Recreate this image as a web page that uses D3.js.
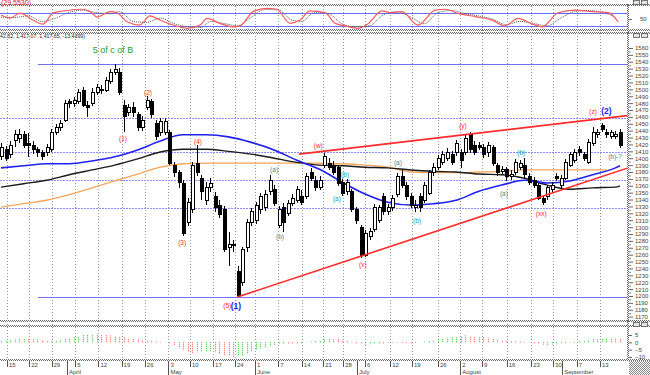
<!DOCTYPE html>
<html>
<head>
<meta charset="utf-8">
<script src="https://cdn.jsdelivr.net/npm/d3@7/dist/d3.min.js"></script>
<style>
  body { margin: 0; background: #fff; }
  svg { display: block; font-family: "Liberation Sans", "DejaVu Sans", sans-serif; }
</style>
</head>
<body>
<svg width="650" height="375"></svg>
<script>
// daily candles, one per trading day (index 0 = mid March)
let opens = [1402,1413,1405,1426,1428,1434,1421,1419,1412,1408,1409,1412,1438,1444,1455,1482,1480,1482,1499,1477,1480,1496,1498,1499,1511,1525,
  1525,1477,1467,1474,1463,1444,1474,1482,1450,1437,1438,1437,1390,1379,1364,1306,1325,1393,1371,1339,1357,1344,1332,
  1325,1270,1275,1235,1219,1270,1306,1310,1325,1328,1351,1354,1303,1329,1320,1335,1339,1344,1344,1380,1368,1357,1390,1393,1390,1386,1365,1351,1351,1325,1299,1259,1286,1296,1310,1344,1322,1328,1347,1373,1361,1344,1329,1344,1339,1349,1379,1387,1394,1400,1405,1408,1408,1409,1434,1419,1419,1416,1408,1415,1389,1381,1383,1374,1379,1387,1390,1374,1368,1360,1341,1344,1354,1374,1361,1371,1390,1397,1413,1405,1394,1422,1434,1447,1438,1432,1432,1438];
let closes = [1416,1400,1419,1434,1435,1419,1418,1412,1408,1402,1416,1438,1445,1451,1480,1479,1484,1496,1477,1474,1496,1502,1500,1513,1525,1529,
  1495,1460,1473,1466,1444,1455,1484,1463,1431,1454,1454,1393,1379,1365,1291,1336,1390,1379,1351,1358,1364,1328,1318,
  1267,1275,1273,1201,1267,1306,1322,1332,1344,1347,1368,1335,1325,1307,1335,1342,1354,1336,1373,1371,1357,1368,1402,1387,1380,1364,1349,1365,1325,1310,1259,1291,1293,1329,1328,1322,1329,1342,1373,1361,1344,1332,1332,1329,1361,1379,1387,1400,1405,1409,1394,1422,1397,1429,1412,1409,1416,1405,1419,1393,1379,1384,1373,1377,1394,1393,1376,1365,1361,1342,1336,1357,1361,1371,1371,1394,1405,1409,1408,1400,1423,1437,1438,1442,1434,1437,1435,1419];
let highs = [1422,1418,1425,1441,1442,1439,1437,1425,1416,1412,1421,1442,1450,1455,1484,1486,1489,1500,1503,1483,1502,1508,1506,1518,1529,1537,
  1531,1484,1479,1482,1467,1461,1490,1486,1455,1458,1458,1441,1394,1383,1368,1342,1394,1419,1376,1365,1371,1351,1339,
  1331,1293,1281,1243,1271,1312,1328,1336,1349,1354,1376,1361,1331,1335,1339,1348,1360,1354,1379,1386,1374,1374,1408,1400,1396,1390,1370,1370,1355,1329,1303,1296,1299,1334,1332,1349,1334,1347,1379,1383,1365,1349,1339,1349,1365,1383,1393,1405,1410,1415,1410,1426,1413,1434,1438,1425,1423,1421,1423,1419,1393,1389,1387,1383,1399,1397,1400,1379,1373,1364,1345,1361,1365,1379,1376,1399,1409,1413,1418,1409,1428,1445,1442,1451,1442,1441,1439,1442];
let lows = [1397,1396,1400,1416,1422,1415,1402,1406,1402,1397,1403,1409,1434,1439,1453,1473,1474,1479,1474,1460,1476,1492,1493,1496,1508,1521,
  1492,1438,1461,1460,1439,1439,1470,1458,1426,1432,1434,1390,1373,1357,1287,1302,1320,1374,1339,1332,1351,1322,1313,
  1264,1243,1264,1198,1215,1264,1302,1304,1319,1323,1347,1331,1299,1293,1316,1331,1335,1332,1341,1367,1352,1354,1386,1383,1376,1360,1345,1347,1322,1304,1255,1257,1281,1293,1306,1318,1318,1323,1344,1357,1339,1328,1322,1322,1335,1347,1374,1383,1390,1396,1390,1403,1386,1405,1408,1405,1412,1400,1402,1389,1374,1377,1367,1368,1376,1383,1371,1361,1357,1339,1332,1339,1349,1367,1357,1368,1387,1393,1403,1396,1392,1418,1429,1438,1429,1428,1428,1415];

// moving averages read every 5 sessions
let maIdx = [0,5,10,15,20,25,30,35,40,45,50,55,60,65,70,75,80,85,90,95,100,105,110,115,120,125,130,135,136];
let blueMA = [1386,1389,1392,1392,1396,1402,1412,1425,1434,1434,1431,1423,1412,1397,1384,1365,1348,1336,1332,1334,1339,1352,1361,1368,1364,1367,1376,1386,1389];
let blackMA = [1358,1363,1368,1376,1383,1390,1399,1409,1413,1413,1410,1406,1400,1394,1390,1389,1387,1386,1383,1381,1380,1377,1376,1371,1361,1355,1357,1358,1360];
let orangeIdx = [0,5,10,15,20,25,30,35,40,45,50,55,60,65,70,75,80,85,90,95,100,105,110,115,120,125,130,133];
let orangeMA = [1329,1334,1339,1347,1357,1367,1377,1387,1392,1393,1393,1393,1393,1393,1393,1392,1390,1387,1380,1379,1379,1380,1381,1383,1383,1383,1383,1383];

// horizontal levels and trend lines
let bandLevels = [1537, 1198.5];
let fibLevels = [1458, 1409, 1368, 1328];
let upperTrend = [[65.5, 1406], [137.8, 1462]];
let lowerTrend = [[51.9, 1198.5], [137.8, 1386]];

// oscillator (top panel)
let oscIdx = [0,2,4.2,7,9.2,11.4,13.6,17.4,19.6,21.1,24,25.5,27.7,30.5,32.7,34.9,37.8,40.9,43.7,45.3,48.1,51,52.5,55.4,58.4,60.6,63.5,65.7,67.9,71.2,73.4,75.6,78.4,80.6,83.7,85.9,88.1,91.6,95.4,97.6,100.4,104.2,107.9,110.7,113.6,116.7,118.9,122.4,126.1,129.9,133.4,135.6];
let oscRed = [69,55,78,46,27,78,88,96,85,60,85,80,38,23,65,46,23,8,23,54,31,15,19,85,100,96,31,46,88,80,31,19,8,28,88,80,85,23,92,96,77,62,46,19,54,28,15,80,92,85,80,38];
let sigIdx = [0,3,6,9,12,15,18,21,24,26,29,32,35,38,41,44,46,49,52,55,58,61,64,66,69,72,75,78,81,84,87,90,93,96,99,102,105,108,111,114,117,120,123,126,129,132,135];
let oscGray = [60,58,65,40,55,82,92,80,75,85,40,35,55,30,15,12,40,30,20,60,95,92,45,40,82,75,28,15,20,70,85,60,30,80,90,75,65,50,25,40,30,20,55,85,90,82,60];

// histogram (bottom panel)
let hist = [1.4,1.6,1.8,2.0,2.2,2.3,2.2,2.0,1.9,1.7,1.5,1.3,1.5,1.8,2.4,3.2,3.8,4.4,4.9,5.3,
  5.5,5.3,5.0,4.8,4.6,4.3,3.8,3.4,3.0,2.5,2.1,1.6,1.2,0.8,0.5,0.3,0.1,-1.2,-2.5,-3.8,
  -5.5,-6.8,-7.5,-7.0,-6.6,-6.5,-6.2,-7.0,-8.2,-9.0,-9.4,-10.0,-9.6,-8.8,-7.8,-6.6,-5.4,-4.4,-3.4,-2.6,
  -1.9,-1.3,-0.9,-1.1,-1.3,-1.0,-0.6,-0.1,0.4,0.9,1.5,2.0,2.4,2.6,2.3,1.6,0.9,0.2,-0.6,-1.3,
  -1.6,-1.4,-1.2,-0.9,-0.6,-0.4,-0.3,-0.2,-0.4,-0.5,-0.6,-0.4,-0.1,0.4,0.9,1.5,2.1,2.7,3.2,3.7,
  4.1,4.4,4.6,4.4,4.2,4.0,3.7,3.2,2.6,2.0,1.5,1.1,0.8,0.6,0.5,0.3,-0.2,-0.7,-1.2,-1.6,
  -1.9,-1.7,-1.4,-1.0,-0.6,-0.2,0.3,0.8,1.3,1.8,2.2,2.6,2.9,3.1,3.0,2.9,2.8];

// date axis
let weekTicks = [1.3,6.2,11.1,16.3,21.4,26.5,31.6,36.8,41.5,46.6,51.4,55.8,60.9,66.1,70.8,75.2,80,85.5,90.3,96,100.9,105.7,111.1,116.5,121.3,126.5,131.6];
let weekLabels = ["15","22","29","5","12","19","26","3","10","17","24","1","7","14","21","28","6","12","19","26","2","9","16","23","30","7","13"];
let monthIdx = [14.5, 36.8, 55.8, 78.2, 100.9, 123.3];
let monthNames = ["April","May","June","July","August","September"];

// wave annotations
let waveText = ["(1)","(2)","(3)","(4)","(5)","(w)","(x)","(y)","(xx)","(z)"];
let waveIdx = [26.8,32.3,39.8,43.3,49.7,69.7,79.5,101.5,118.7,130.1];
let wavePrice = [1428,1496,1278,1425,1185.5,1419,1246,1448,1320,1468.5];
let degText = ["(1)","(2)"];
let degIdx = [51.6,133.0];
let degPrice = [1185.5,1468.5];
let subText = ["(a)","(b)","(a)","(b)","(a)","(b)","(a)","(b)","(b)-?"];
let subIdx = [60,61.3,73.8,75.6,87.2,91.4,110.5,114.3,134.9];
let subPrice = [1383,1286,1342,1377,1394,1310,1349,1409,1402];

let svg = d3.select("svg");
let x = d3.scaleLinear().domain([0, 136]).range([1, 620]),
    y = d3.scaleLinear().domain([1200, 1560]).range([296, 48]),
    yOsc = d3.scaleLinear().domain([20, 80]).range([25.7, 12.7]),
    yHist = d3.scaleLinear().domain([-10, 5]).range([357, 335]);
let px = v => Math.round(v) + 0.5;

let candles = opens.map((o, i) => ({i: i, o: o, h: highs[i], l: lows[i], c: closes[i]}));

svg.append("rect").attr("width", 650).attr("height", 375).attr("fill", "#fff");

let defs = svg.append("defs");
defs.append("clipPath").attr("id", "clipMain").append("rect")
    .attr("x", 0).attr("y", 33).attr("width", 627).attr("height", 287);
defs.append("clipPath").attr("id", "clipOsc").append("rect")
    .attr("x", 0).attr("y", 6).attr("width", 627).attr("height", 23);

// checker separators
function band(y0, x2) {
    [0, 1].forEach(k => {
        svg.append("line")
            .attr("x1", 0).attr("x2", x2).attr("y1", y0 + k + 0.5).attr("y2", y0 + k + 0.5)
            .attr("stroke", "#666").attr("stroke-dasharray", "1,1").attr("stroke-dashoffset", k);
    });
}
band(4, 650);
band(29, 650);
band(32, 650);
band(320, 650);
band(325, 650);
band(359, 650);
[0, 1].forEach(k => {
    svg.append("line")
        .attr("x1", 627 + k + 0.5).attr("x2", 627 + k + 0.5).attr("y1", 4).attr("y2", 361)
        .attr("stroke", "#666").attr("stroke-dasharray", "1,1").attr("stroke-dashoffset", k);
});

// week grid
svg.append("g").selectAll("line").data(weekTicks).join("line")
    .attr("x1", d => px(x(d))).attr("x2", d => px(x(d)))
    .attr("y1", 6).attr("y2", 359)
    .attr("stroke", "#999").attr("stroke-dasharray", "1,2");

// ---- oscillator panel
let osc = svg.append("g").attr("clip-path", "url(#clipOsc)");
[80, 20].forEach(v => {
    osc.append("line").attr("x1", 0).attr("x2", 627)
        .attr("y1", px(yOsc(v))).attr("y2", px(yOsc(v)))
        .attr("stroke", "#6a6aff").attr("stroke-width", 1);
});
let oscLine = d3.line().curve(d3.curveMonotoneX).x(d => x(d[0])).y(d => yOsc(d[1]));
osc.append("path").datum(sigIdx.map((d, i) => [d, oscGray[i]]))
    .attr("d", oscLine).attr("fill", "none")
    .attr("stroke", "#555").attr("stroke-width", 1).attr("stroke-dasharray", "1,1");
osc.append("path").datum(oscIdx.map((d, i) => [d, oscRed[i]]))
    .attr("d", oscLine).attr("fill", "none")
    .attr("stroke", "#ff5a5a").attr("stroke-width", 1.2);
svg.append("text").attr("x", 640).attr("y", yOsc(50) + 2).attr("font-size", 6)
    .attr("fill", "#444").text("50");
svg.append("line").attr("x1", 629).attr("x2", 632).attr("y1", px(yOsc(50))).attr("y2", px(yOsc(50)))
    .attr("stroke", "#666");
svg.append("text").attr("x", 1).attr("y", 4.5).attr("font-size", 7)
    .attr("fill", "#e02020").text("(29.5530)");

// ---- main panel
let main = svg.append("g").attr("clip-path", "url(#clipMain)");

main.selectAll(".fib").data(fibLevels).join("line")
    .attr("class", "fib")
    .attr("x1", 0).attr("x2", 627)
    .attr("y1", d => px(y(d))).attr("y2", d => px(y(d)))
    .attr("stroke", "#8c8cff").attr("stroke-dasharray", "2,1");
main.selectAll(".lvl").data(bandLevels).join("line")
    .attr("class", "lvl")
    .attr("x1", x(8.1)).attr("x2", 627)
    .attr("y1", d => px(y(d))).attr("y2", d => px(y(d)))
    .attr("stroke", "#7070f0");

let maLine = d3.line().curve(d3.curveMonotoneX).x(d => x(d[0])).y(d => y(d[1]));
main.append("path").datum(orangeIdx.map((d, i) => [d, orangeMA[i]]))
    .attr("d", maLine).attr("fill", "none").attr("stroke", "#f7a55a").attr("stroke-width", 1.3);
main.append("path").datum(maIdx.map((d, i) => [d, blackMA[i]]))
    .attr("d", maLine).attr("fill", "none").attr("stroke", "#1a1a1a").attr("stroke-width", 1.4);
main.append("path").datum(maIdx.map((d, i) => [d, blueMA[i]]))
    .attr("d", maLine).attr("fill", "none").attr("stroke", "#2020ee").attr("stroke-width", 1.6);

let cg = main.append("g").attr("shape-rendering", "crispEdges");
cg.selectAll(".wick").data(candles).join("line")
    .attr("class", "wick")
    .attr("x1", d => px(x(d.i))).attr("x2", d => px(x(d.i)))
    .attr("y1", d => y(d.h)).attr("y2", d => y(d.l))
    .attr("stroke", "#000");
cg.selectAll(".body").data(candles).join("rect")
    .attr("class", "body")
    .attr("x", d => Math.round(x(d.i)) - 1)
    .attr("y", d => y(Math.max(d.o, d.c)))
    .attr("width", 3)
    .attr("height", d => Math.max(1, Math.abs(y(d.o) - y(d.c))))
    .attr("fill", d => d.c >= d.o ? "#fff" : "#000")
    .attr("stroke", "#000").attr("stroke-width", 1);

let tl = d3.line().x(d => x(d[0])).y(d => y(d[1]));
[upperTrend, lowerTrend].forEach(t => {
    main.append("path").datum(t).attr("d", tl)
        .attr("fill", "none").attr("stroke", "#ff2a2a").attr("stroke-width", 1.6);
});

// annotations
main.selectAll(".wave").data(waveText).join("text")
    .attr("class", "wave")
    .attr("x", (d, i) => x(waveIdx[i])).attr("y", (d, i) => y(wavePrice[i]) + 2.5)
    .attr("text-anchor", "middle").attr("font-size", 6.5).attr("fill", "#ff2a2a")
    .text(d => d);
main.selectAll(".deg").data(degText).join("text")
    .attr("class", "deg")
    .attr("x", (d, i) => x(degIdx[i])).attr("y", (d, i) => y(degPrice[i]) + 3)
    .attr("text-anchor", "middle").attr("font-size", 8.5).attr("font-weight", "bold")
    .attr("fill", "#1a1aee")
    .text(d => d);
main.selectAll(".sub").data(subText).join("text")
    .attr("class", "sub")
    .attr("x", (d, i) => x(subIdx[i])).attr("y", (d, i) => y(subPrice[i]) + 2.5)
    .attr("text-anchor", "middle").attr("font-size", 6.5).attr("fill", "#1a9a9a")
    .text(d => d);
main.append("text").attr("x", x(24.6)).attr("y", y(1557) + 3)
    .attr("text-anchor", "middle").attr("font-size", 9).attr("fill", "#1f9f1f")
    .text("5 of c of B");
svg.append("text").attr("x", 0).attr("y", 37.5).attr("font-size", 5.5)
    .attr("textLength", 85).attr("lengthAdjust", "spacingAndGlyphs")
    .attr("fill", "#222").text("42.52, 1,417.07, 1,417.65, -13.4399)");

// price axis
let yAxis = svg.append("g").attr("transform", "translate(629,0)")
    .call(d3.axisRight(y).tickValues(d3.range(1170, 1561, 10)).tickSize(4).tickPadding(2).tickFormat(d3.format("d")));
yAxis.select(".domain").remove();
yAxis.selectAll("line").attr("stroke", "#666");
yAxis.selectAll("text").attr("font-size", 6).attr("fill", "#444")
    .attr("font-family", "Liberation Sans, sans-serif");
let yMinor = svg.append("g").attr("transform", "translate(629,0)")
    .call(d3.axisRight(y).tickValues(d3.range(1175, 1560, 10)).tickSize(2).tickFormat(""));
yMinor.select(".domain").remove();
yMinor.selectAll("line").attr("stroke", "#888");

// ---- histogram panel
svg.append("g").selectAll("line").data(hist).join("line")
    .attr("x1", (d, i) => px(x(i))).attr("x2", (d, i) => px(x(i)))
    .attr("y1", yHist(0)).attr("y2", d => yHist(d))
    .attr("stroke", (d, i) => (i === 0 || d >= hist[i - 1]) ? "#3cc43c" : "#ff5c5c")
    .attr("stroke-width", 1.2).attr("stroke-dasharray", "1,1");
let hAxis = svg.append("g").attr("transform", "translate(629,0)")
    .call(d3.axisRight(yHist).tickValues([5, 0, -5, -10]).tickSize(3).tickPadding(3).tickFormat(d3.format("d")));
hAxis.select(".domain").remove();
hAxis.selectAll("line").attr("stroke", "#666");
hAxis.selectAll("text").attr("font-size", 6).attr("fill", "#444")
    .attr("font-family", "Liberation Sans, sans-serif");

// small panel buttons
[[633, 0], [633, 33], [633, 322]].forEach(p => {
    [0, 8].forEach(dx => {
        svg.append("rect").attr("x", p[0] + dx + 0.5).attr("y", p[1] + 0.5)
            .attr("width", 6).attr("height", 4)
            .attr("fill", "#e4e4e4").attr("stroke", "#555").attr("stroke-width", 0.8);
    });
});

// ---- date axis
let ax = svg.append("g");
ax.selectAll(".wk").data(weekTicks).join("line")
    .attr("class", "wk")
    .attr("x1", d => px(x(d))).attr("x2", d => px(x(d)))
    .attr("y1", 361).attr("y2", 367)
    .attr("stroke", "#555");
ax.selectAll(".wkl").data(weekLabels).join("text")
    .attr("class", "wkl")
    .attr("x", (d, i) => x(weekTicks[i]) + 2).attr("y", 367)
    .attr("font-size", 6).attr("fill", "#444")
    .text(d => d);
ax.selectAll(".mo").data(monthIdx).join("line")
    .attr("class", "mo")
    .attr("x1", d => px(x(d))).attr("x2", d => px(x(d)))
    .attr("y1", 361).attr("y2", 375)
    .attr("stroke", "#555");
ax.selectAll(".mol").data(monthNames).join("text")
    .attr("class", "mol")
    .attr("x", (d, i) => x(monthIdx[i]) + 2).attr("y", 374)
    .attr("font-size", 6).attr("fill", "#444")
    .text(d => d);

// corner scroll block
let pat = defs.append("pattern").attr("id", "chk").attr("width", 2).attr("height", 2)
    .attr("patternUnits", "userSpaceOnUse");
pat.append("rect").attr("width", 2).attr("height", 2).attr("fill", "#fff");
pat.append("rect").attr("width", 1).attr("height", 1).attr("fill", "#888");
pat.append("rect").attr("x", 1).attr("y", 1).attr("width", 1).attr("height", 1).attr("fill", "#888");
svg.append("rect").attr("x", 629).attr("y", 361).attr("width", 21).attr("height", 14).attr("fill", "url(#chk)");
</script>
</body>
</html>
